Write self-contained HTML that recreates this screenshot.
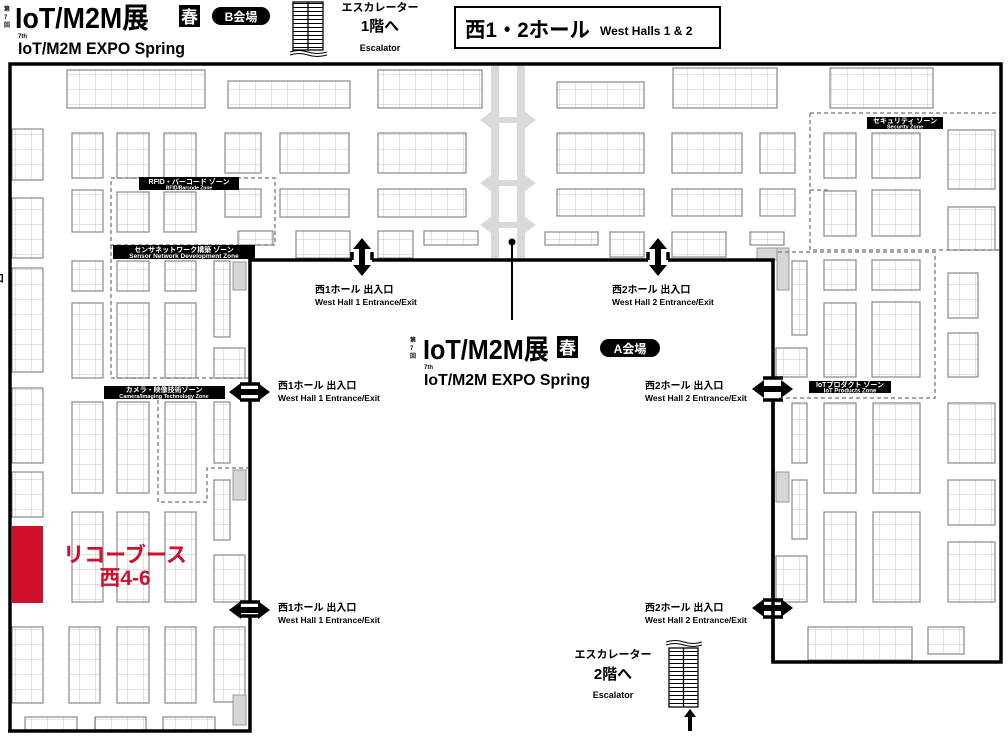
<!DOCTYPE html>
<html><head><meta charset="utf-8"><style>
html,body{margin:0;padding:0;background:#fff;}
svg{display:block;}
text{font-family:"Liberation Sans","Noto Sans CJK JP",sans-serif;font-weight:bold;}
</style></head><body>
<svg width="1008" height="737" viewBox="0 0 1008 737" xmlns="http://www.w3.org/2000/svg">
<defs>
<pattern id="g" width="16" height="15" patternUnits="userSpaceOnUse">
<rect width="16" height="15" fill="#fff"/>
<path d="M16 0V15M0 15H16" stroke="#c4c4c4" stroke-width="1" fill="none"/>
</pattern>
<pattern id="st" width="10" height="4" patternUnits="userSpaceOnUse">
<rect width="10" height="4" fill="#fff"/><path d="M0 3.5H10" stroke="#000" stroke-width="1"/>
</pattern>
</defs>

<g fill="url(#g)" stroke="#888" stroke-width="1.2">
<rect x="67" y="70" width="138" height="38"/>
<rect x="228" y="81" width="122" height="27"/>
<rect x="378" y="70" width="104" height="38"/>
<rect x="557" y="82" width="87" height="26"/>
<rect x="673" y="68" width="104" height="40"/>
<rect x="830" y="68" width="103" height="40"/>
<rect x="12" y="129" width="31" height="51"/>
<rect x="72" y="133" width="31" height="45"/>
<rect x="117" y="133" width="32" height="45"/>
<rect x="164" y="133" width="32" height="45"/>
<rect x="225" y="133" width="36" height="40"/>
<rect x="280" y="133" width="69" height="40"/>
<rect x="378" y="133" width="88" height="40"/>
<rect x="557" y="133" width="87" height="40"/>
<rect x="672" y="133" width="70" height="40"/>
<rect x="760" y="133" width="35" height="40"/>
<rect x="824" y="133" width="32" height="45"/>
<rect x="872" y="133" width="48" height="45"/>
<rect x="948" y="130" width="47" height="59"/>
<rect x="12" y="198" width="31" height="60"/>
<rect x="72" y="190" width="31" height="42"/>
<rect x="117" y="192" width="32" height="40"/>
<rect x="164" y="192" width="32" height="40"/>
<rect x="225" y="189" width="36" height="28"/>
<rect x="280" y="189" width="69" height="28"/>
<rect x="378" y="189" width="88" height="28"/>
<rect x="557" y="189" width="87" height="27"/>
<rect x="672" y="189" width="70" height="27"/>
<rect x="760" y="189" width="35" height="27"/>
<rect x="824" y="191" width="32" height="45"/>
<rect x="872" y="190" width="48" height="46"/>
<rect x="948" y="207" width="47" height="43"/>
<rect x="238" y="231" width="35" height="14"/>
<rect x="296" y="231" width="54" height="27"/>
<rect x="378" y="231" width="35" height="27"/>
<rect x="424" y="231" width="54" height="14"/>
<rect x="545" y="232" width="53" height="13"/>
<rect x="610" y="232" width="34" height="25"/>
<rect x="672" y="232" width="54" height="25"/>
<rect x="750" y="232" width="34" height="13"/>
<rect x="12" y="268" width="31" height="104"/>
<rect x="12" y="388" width="31" height="75"/>
<rect x="12" y="472" width="31" height="45"/>
<rect x="12" y="627" width="31" height="76"/>
<rect x="72" y="261" width="31" height="30"/>
<rect x="117" y="261" width="32" height="30"/>
<rect x="165" y="261" width="31" height="30"/>
<rect x="214" y="261" width="16" height="76"/>
<rect x="72" y="303" width="31" height="75"/>
<rect x="117" y="303" width="32" height="75"/>
<rect x="165" y="303" width="31" height="75"/>
<rect x="214" y="348" width="31" height="30"/>
<rect x="72" y="402" width="31" height="91"/>
<rect x="117" y="402" width="32" height="91"/>
<rect x="165" y="402" width="31" height="91"/>
<rect x="214" y="402" width="16" height="61"/>
<rect x="214" y="480" width="16" height="60"/>
<rect x="72" y="512" width="31" height="90"/>
<rect x="117" y="512" width="32" height="90"/>
<rect x="165" y="512" width="31" height="90"/>
<rect x="214" y="555" width="31" height="47"/>
<rect x="69" y="627" width="31" height="76"/>
<rect x="117" y="627" width="32" height="76"/>
<rect x="165" y="627" width="31" height="76"/>
<rect x="214" y="627" width="31" height="75"/>
<rect x="25" y="717" width="52" height="13"/>
<rect x="95" y="717" width="51" height="13"/>
<rect x="163" y="717" width="52" height="13"/>
<rect x="792" y="261" width="15" height="74"/>
<rect x="824" y="260" width="32" height="30"/>
<rect x="872" y="260" width="48" height="30"/>
<rect x="948" y="273" width="30" height="45"/>
<rect x="824" y="303" width="32" height="74"/>
<rect x="872" y="302" width="48" height="75"/>
<rect x="948" y="333" width="30" height="44"/>
<rect x="776" y="348" width="31" height="29"/>
<rect x="792" y="403" width="15" height="60"/>
<rect x="824" y="403" width="32" height="90"/>
<rect x="873" y="403" width="47" height="90"/>
<rect x="948" y="403" width="47" height="60"/>
<rect x="792" y="480" width="15" height="59"/>
<rect x="948" y="480" width="47" height="45"/>
<rect x="824" y="512" width="32" height="90"/>
<rect x="873" y="512" width="47" height="90"/>
<rect x="948" y="542" width="47" height="60"/>
<rect x="776" y="556" width="31" height="46"/>
<rect x="808" y="627" width="104" height="33"/>
<rect x="928" y="627" width="36" height="27"/>
</g>

<rect x="12" y="526" width="31" height="77" fill="#d0112b"/>
<text x="125" y="562" font-size="21" fill="#d0112b" text-anchor="middle">リコーブース</text>
<text x="125" y="585" font-size="21" fill="#d0112b" text-anchor="middle">西4-6</text>

<g fill="#d6d6d6" stroke="#999">
<rect x="233" y="262" width="13" height="28"/>
<rect x="233" y="470" width="13" height="30"/>
<rect x="233" y="695" width="13" height="30"/>
<rect x="776" y="472" width="13" height="30"/>
<rect x="757" y="248" width="32" height="12"/>
<rect x="777" y="248" width="12" height="42"/>
</g>

<g fill="#d9d9d9">
<rect x="491" y="66" width="8" height="192"/>
<rect x="517" y="66" width="8" height="192"/>
<polygon points="480,120 492,111 492,117 524,117 524,111 536,120 524,129 524,123 492,123 492,129"/>
<polygon points="480,183 492,174 492,180 524,180 524,174 536,183 524,192 524,186 492,186 492,192"/>
<polygon points="480,225 492,216 492,222 524,222 524,216 536,225 524,234 524,228 492,228 492,234"/>
</g>
<line x1="512" y1="242" x2="512" y2="320" stroke="#000" stroke-width="2"/>
<circle cx="512" cy="242" r="3.5" fill="#000"/>

<g fill="none" stroke="#888" stroke-width="1.5" stroke-dasharray="4,3">
<rect x="111" y="178" width="164" height="67"/>
<path d="M111 245V378H248"/>
<path d="M158 400V502H207V468H248"/>
<path d="M810 113H1000M810 113V250H1000M810 190H830"/>
<path d="M778 252H935V398H778"/>
</g>
<g fill="#000">
<rect x="139" y="177" width="100" height="13"/>
<rect x="113" y="245" width="142" height="14"/>
<rect x="104" y="386" width="121" height="13"/>
<rect x="867" y="117" width="76" height="12"/>
<rect x="809" y="381" width="82" height="12"/>
</g>
<g fill="#fff" text-anchor="middle">
<text x="189" y="184" font-size="7">RFID・バーコード ゾーン</text>
<text x="189" y="189.5" font-size="5" font-weight="normal">RFID/Barcode Zone</text>
<text x="184" y="252" font-size="7">センサネットワーク構築 ゾーン</text>
<text x="184" y="258" font-size="6.5" font-weight="normal">Sensor Network Development Zone</text>
<text x="164" y="392" font-size="7">カメラ・映像技術ゾーン</text>
<text x="164" y="398" font-size="5.5" font-weight="normal">Camera/Imaging Technology Zone</text>
<text x="905" y="123" font-size="7">セキュリティ ゾーン</text>
<text x="905" y="128.5" font-size="5.5" font-weight="normal">Security Zone</text>
<text x="850" y="387" font-size="7">IoTプロダクト ゾーン</text>
<text x="850" y="392.5" font-size="6" font-weight="normal">IoT Products Zone</text>
</g>

<g fill="none" stroke="#000" stroke-width="3.5">
<path d="M10 730V64H1001V662H773V400"/>
<path d="M773 378V260H668"/>
<path d="M648 260H372"/>
<path d="M352 260H250V384"/>
<path d="M250 400V602"/>
<path d="M250 616V731H8"/>
</g>
<g stroke="#000" stroke-width="3.5">
<line x1="240" y1="384" x2="260" y2="384"/>
<line x1="240" y1="400" x2="260" y2="400"/>
<line x1="240" y1="602" x2="260" y2="602"/>
<line x1="240" y1="616" x2="260" y2="616"/>
<line x1="763" y1="378" x2="783" y2="378"/>
<line x1="763" y1="400" x2="783" y2="400"/>
<line x1="763" y1="600" x2="783" y2="600"/>
<line x1="763" y1="617" x2="783" y2="617"/>
<line x1="773" y1="400" x2="773" y2="600"/>
<line x1="773" y1="617" x2="773" y2="662"/>
<line x1="352" y1="260" x2="352" y2="252"/>
<line x1="372" y1="260" x2="372" y2="252"/>
<line x1="648" y1="260" x2="648" y2="252"/>
<line x1="668" y1="260" x2="668" y2="252"/>
</g>

<g fill="#000">
<polygon points="362,238 371,249 365,249 365,265 371,265 362,276 353,265 359,265 359,249 353,249"/>
<polygon points="658,238 667,249 661,249 661,265 667,265 658,276 649,265 655,265 655,249 649,249"/>
<polygon points="229,392 241,383 241,389 258,389 258,383 270,392 258,401 258,395 241,395 241,401"/>
<polygon points="229,610 241,601 241,607 258,607 258,601 270,610 258,619 258,613 241,613 241,619"/>
<polygon points="752,389 764,380 764,386 781,386 781,380 793,389 781,398 781,392 764,392 764,398"/>
<polygon points="752,608 764,599 764,605 781,605 781,599 793,608 781,617 781,611 764,611 764,617"/>
<polygon points="690,709 696,717 692,717 692,731 688,731 688,717 684,717"/>
</g>
<g fill="#000">
<text x="315" y="293" font-size="10">西1ホール 出入口</text>
<text x="315" y="305" font-size="8.5" font-weight="normal">West Hall 1 Entrance/Exit</text>
<text x="612" y="293" font-size="10">西2ホール 出入口</text>
<text x="612" y="305" font-size="8.5" font-weight="normal">West Hall 2 Entrance/Exit</text>
<text x="278" y="389" font-size="10">西1ホール 出入口</text>
<text x="278" y="401" font-size="8.5" font-weight="normal">West Hall 1 Entrance/Exit</text>
<text x="278" y="611" font-size="10">西1ホール 出入口</text>
<text x="278" y="623" font-size="8.5" font-weight="normal">West Hall 1 Entrance/Exit</text>
<text x="645" y="389" font-size="10">西2ホール 出入口</text>
<text x="645" y="401" font-size="8.5" font-weight="normal">West Hall 2 Entrance/Exit</text>
<text x="645" y="611" font-size="10">西2ホール 出入口</text>
<text x="645" y="623" font-size="8.5" font-weight="normal">West Hall 2 Entrance/Exit</text>
</g>

<text x="410" y="342" font-size="6">第</text>
<text x="410" y="350" font-size="6">7</text>
<text x="410" y="358" font-size="6">回</text>
<text x="423" y="359" font-size="28" textLength="126" lengthAdjust="spacingAndGlyphs">IoT/M2M展</text>
<rect x="557" y="336" width="21" height="22" fill="#000"/>
<text x="567.5" y="354" font-size="17" fill="#fff" text-anchor="middle">春</text>
<rect x="600" y="339" width="60" height="18" rx="9" fill="#000"/>
<text x="630" y="353" font-size="12" fill="#fff" text-anchor="middle">A会場</text>
<text x="424" y="369" font-size="6">7th</text>
<text x="424" y="385" font-size="16" textLength="166" lengthAdjust="spacingAndGlyphs">IoT/M2M EXPO Spring</text>

<text x="4" y="11" font-size="6">第</text>
<text x="4" y="19" font-size="6">7</text>
<text x="4" y="27" font-size="6">回</text>
<text x="15" y="28" font-size="29" textLength="134" lengthAdjust="spacingAndGlyphs">IoT/M2M展</text>
<rect x="179" y="5" width="21" height="22" fill="#000"/>
<text x="189.5" y="23" font-size="17" fill="#fff" text-anchor="middle">春</text>
<rect x="212" y="7" width="58" height="18" rx="9" fill="#000"/>
<text x="241" y="21" font-size="12" fill="#fff" text-anchor="middle">B会場</text>
<text x="18" y="38" font-size="6">7th</text>
<text x="18" y="54" font-size="17" textLength="167" lengthAdjust="spacingAndGlyphs">IoT/M2M EXPO Spring</text>

<rect x="293" y="2" width="30" height="48" fill="url(#st)" stroke="#000" stroke-width="1.3"/>
<line x1="308" y1="2" x2="308" y2="50" stroke="#000" stroke-width="1.3"/>
<path d="M290 52q9-3 18 0t19 0M290 55q9-3 18 0t19 0" stroke="#000" fill="none"/>
<text x="380" y="11" font-size="11" text-anchor="middle">エスカレーター</text>
<text x="380" y="31" font-size="15" text-anchor="middle">1階へ</text>
<text x="380" y="51" font-size="9" text-anchor="middle">Escalator</text>

<rect x="455" y="7" width="265" height="41" fill="#fff" stroke="#000" stroke-width="2"/>
<text x="465" y="37" font-size="21" textLength="125" lengthAdjust="spacingAndGlyphs">西1・2ホール</text>
<text x="600" y="35" font-size="12">West Halls 1 &amp; 2</text>

<rect x="669" y="648" width="29" height="59" fill="url(#st)" stroke="#000" stroke-width="1.3"/>
<line x1="683.5" y1="648" x2="683.5" y2="707" stroke="#000" stroke-width="1.3"/>
<path d="M666 645q9-3 18 0t18 0M666 642q9-3 18 0t18 0" stroke="#000" fill="none"/>
<text x="613" y="658" font-size="11" text-anchor="middle">エスカレーター</text>
<text x="613" y="679" font-size="15" text-anchor="middle">2階へ</text>
<text x="613" y="698" font-size="9" text-anchor="middle">Escalator</text>

<text x="-6" y="282" font-size="10">口</text>
</svg>
</body></html>
